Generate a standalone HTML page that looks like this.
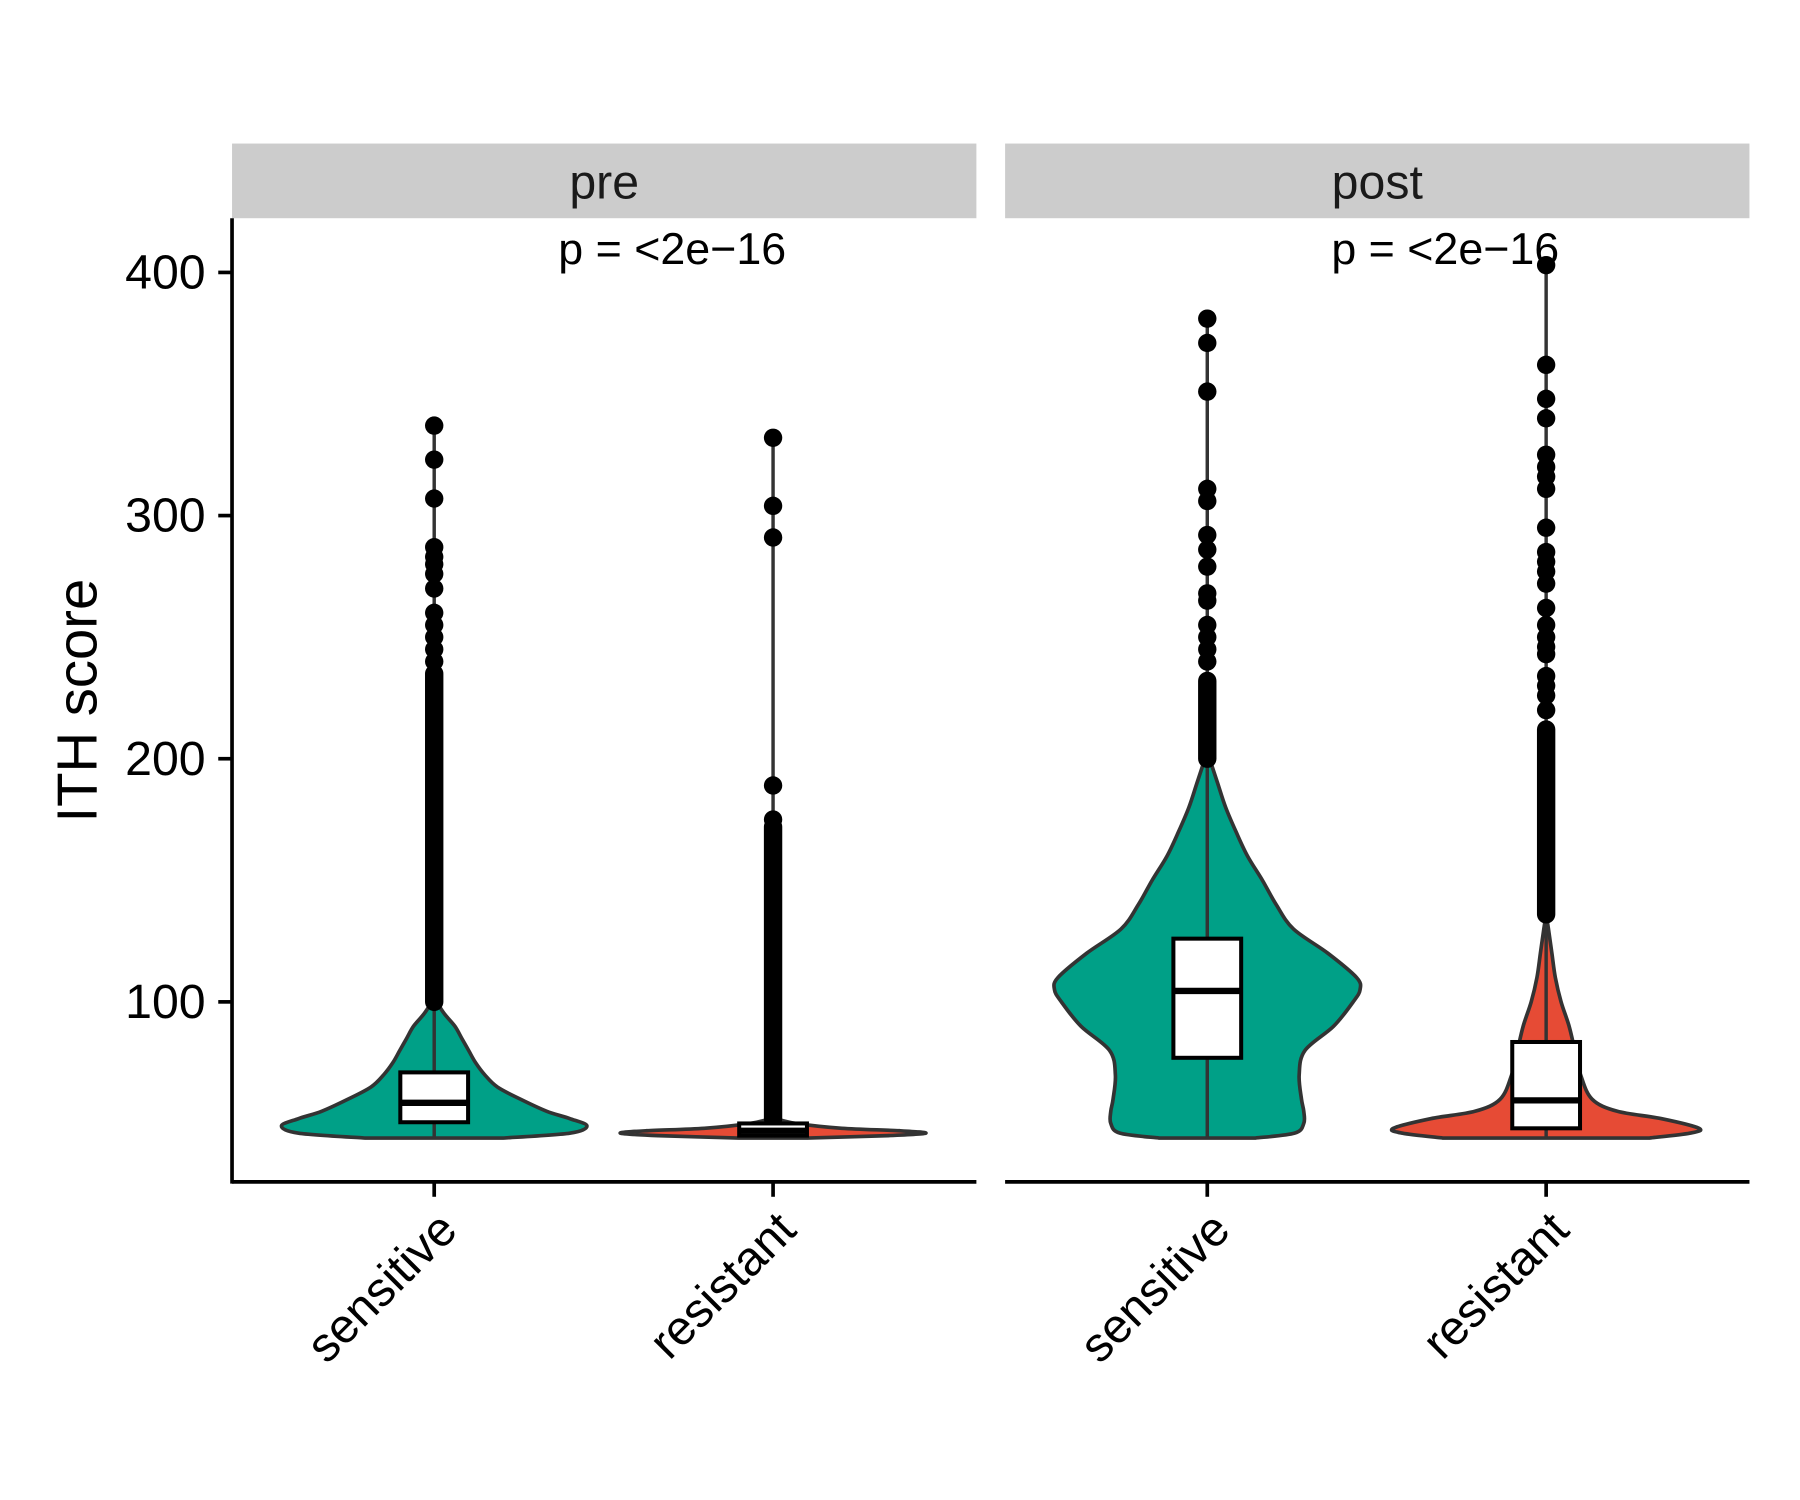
<!DOCTYPE html>
<html><head><meta charset="utf-8"><style>html,body{margin:0;padding:0;background:#fff}svg{display:block}text{font-family:"Liberation Sans",sans-serif}</style></head>
<body>
<svg id="chart" width="1800" height="1500" viewBox="0 0 1567 1306" preserveAspectRatio="none" xmlns="http://www.w3.org/2000/svg">
<rect width="1567" height="1306" fill="#fff"/>
<g id="g"></g>
</svg>
<script>
const panels = ["pre","post"];
const categories = ["sensitive","resistant"];
const yTicks = [100,200,300,400];
const pLabel = "p = <2e\u221216";
// violin density: values and half-widths
const vPreSensY = [44,46,49,52,55,60,65,70,75,80,85,90,95,100];
const vPreSensW = [60,118,133,118,98,75,55,44,36,30,24,18,9,2];
const vPreResY = [44,45,46,47,48,50,52];
const vPreResW = [30,100,133,110,60,20,2];
const vPostSensY = [44,46,50,55,60,70,80,90,100,105,110,120,130,140,150,160,170,180,190,200];
const vPostSensW = [42,76,84,84,82,80,85,110,127,133,130,105,75,60,48,35,25,16,9,2];
const vPostResY = [44,46,48,52,55,60,70,80,90,100,110,120,130,136];
const vPostResW = [90,125,133,100,62,40,30,25,20,13,8,5,2,0];
// box stats: min, q1, median, q3, max(whisker)
const boxPreSens = [44,50.5,58.5,71,100];
const boxPreRes = [44,45,47,50,52];
const boxPostSens = [44,77,104.5,126,200];
const boxPostRes = [44,48,59.5,83.5,136];
// outliers: dense ranges and individual points
const outRangePreSens = [[100,235]];
const outPtsPreSens = [240,245,250,255,260,270,276,280,283,287,307,323,337];
const outRangePreRes = [[52,172]];
const outPtsPreRes = [175,189,291,304,332];
const outRangePostSens = [[200,232]];
const outPtsPostSens = [240,245,250,255,265,268,279,286,292,306,311,351,371,381];
const outRangePostRes = [[136,212]];
const outPtsPostRes = [220,226,230,234,243,246,250,255,262,272,277,281,285,295,311,316,320,325,340,348,362,403];

const groups = [
 {p:0,c:0,vy:vPreSensY,vw:vPreSensW,box:boxPreSens,or:outRangePreSens,op:outPtsPreSens,col:"#00A087"},
 {p:0,c:1,vy:vPreResY,vw:vPreResW,box:boxPreRes,or:outRangePreRes,op:outPtsPreRes,col:"#E64B35"},
 {p:1,c:0,vy:vPostSensY,vw:vPostSensW,box:boxPostSens,or:outRangePostSens,op:outPtsPostSens,col:"#00A087"},
 {p:1,c:1,vy:vPostResY,vw:vPostResW,box:boxPostRes,or:outRangePostRes,op:outPtsPostRes,col:"#E64B35"}
];
const panelX = [202,875], panelW = 648, plotTop=190, plotBottom=1029;
const yScale = v => 1084 - v*2.117;
const xScale = (p,c) => panelX[p] + 176 + c*295;
const NS="http://www.w3.org/2000/svg";
const G=document.getElementById('g');
function mk(t,a,txt){const e=document.createElementNS(NS,t);for(const k in a)e.setAttribute(k,a[k]);if(txt!=null)e.textContent=txt;G.appendChild(e);return e;}

panels.forEach((pn,p)=>{
  const s=mk('rect',{x:panelX[p],y:125,width:panelW,height:65,fill:"#cccccc"});
  
  
  const st=mk('text',{x:panelX[p]+panelW/2,y:173,'font-size':42,'text-anchor':'middle',fill:'#1a1a1a'},pn);
  
  
  const pl=mk('text',{x:panelX[p]+284,y:230,'font-size':39,fill:'#000'},pLabel);
  
  
  const xa=mk('line',{x1:panelX[p],x2:panelX[p]+panelW,y1:plotBottom,y2:plotBottom,stroke:'#000','stroke-width':3.2});
  
  
  categories.forEach((c,ci)=>{
    const cx=xScale(p,ci);
    const tk=mk('line',{x1:cx,x2:cx,y1:plotBottom,y2:plotBottom+13,stroke:'#000','stroke-width':3.2});
    
    
    const lx=cx+22, ly=plotBottom+44;
    const lb=mk('text',{x:lx,y:ly,'font-size':42,'text-anchor':'end',fill:'#000',transform:`rotate(-45 ${lx} ${ly})`},c);
    
    
  });
});
const ya=mk('line',{x1:202,x2:202,y1:plotTop,y2:plotBottom+1.5,stroke:'#000','stroke-width':3.2});


yTicks.forEach(t=>{
  const l=mk('line',{x1:190,x2:202,y1:yScale(t),y2:yScale(t),stroke:'#000','stroke-width':3.2});
  
  
  const tx=mk('text',{x:179,y:yScale(t)+14,'font-size':42,'text-anchor':'end',fill:'#000'},String(t));
  
  
});
const yt=mk('text',{x:84,y:610,'font-size':49,'text-anchor':'middle',fill:'#000',transform:'rotate(-90 84 610)'},'ITH score');



function curveSegs(pts){
  let d='';
  for(let i=0;i<pts.length-1;i++){
    const p0=pts[Math.max(0,i-1)],p1=pts[i],p2=pts[i+1],p3=pts[Math.min(pts.length-1,i+2)];
    const c1=[p1[0]+(p2[0]-p0[0])/6,p1[1]+(p2[1]-p0[1])/6];
    const c2=[p2[0]-(p3[0]-p1[0])/6,p2[1]-(p3[1]-p1[1])/6];
    d+=` C${c1[0]},${c1[1]} ${c2[0]},${c2[1]} ${p2[0]},${p2[1]}`;
  }
  return d;
}
groups.forEach(g=>{
  const cx=xScale(g.p,g.c);
  const rs=g.vy.map((v,i)=>[cx+g.vw[i],yScale(v)]).reverse();
  const ls=g.vy.map((v,i)=>[cx-g.vw[i],yScale(v)]);
  let path=`M${rs[0][0]},${rs[0][1]}`+curveSegs(rs)+` L${ls[0][0]},${ls[0][1]}`+curveSegs(ls)+' Z';
  const vp=mk('path',{d:path,fill:g.col,stroke:'#333','stroke-width':3.2});
  
  
  const wl=mk('line',{x1:cx,x2:cx,y1:yScale(g.box[0]),y2:yScale(Math.max(g.box[4],...g.op)),stroke:'#333','stroke-width':3});
  
  
  g.or.forEach(r=>{
    const rl=mk('line',{x1:cx,x2:cx,y1:yScale(r[0]),y2:yScale(r[1]),stroke:'#000','stroke-width':16,'stroke-linecap':'round'});
    
    
  });
  g.op.forEach(v=>{
    const c=mk('circle',{cx:cx,cy:yScale(v),r:8,fill:'#000'});
    
    
  });
  const bx=mk('rect',{x:cx-29.5,y:yScale(g.box[3]),width:59,height:yScale(g.box[1])-yScale(g.box[3]),fill:'#fff',stroke:'#000','stroke-width':3.5});
  
  
  const md=mk('line',{x1:cx-29.5,x2:cx+29.5,y1:yScale(g.box[2]),y2:yScale(g.box[2]),stroke:'#000','stroke-width':5.5});
  
  
});
</script>
</body></html>
